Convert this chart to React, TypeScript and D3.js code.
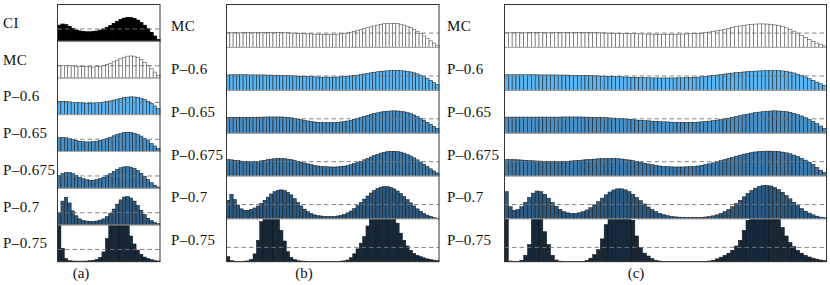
import React from 'react'
import { scaleLinear } from 'd3'

// row labels and captions
const labelsA = ['CI', 'MC', 'P–0.6', 'P–0.65', 'P–0.675', 'P–0.7', 'P–0.75']
const labelsBC = ['MC', 'P–0.6', 'P–0.65', 'P–0.675', 'P–0.7', 'P–0.75']
const captions = ['(a)', '(b)', '(c)']

// histogram heights, 1 = uniform level (dashed line)
const aCI = [1.3, 1.4, 1.35, 1.2, 1.05, 0.92, 0.84, 0.79, 0.77, 0.77, 0.79, 0.83, 0.9, 1.0, 1.12, 1.27, 1.45, 1.62, 1.77, 1.88, 1.93, 1.92, 1.85, 1.72, 1.52, 1.3, 1.02, 0.72, 0.42, 0.15]
const aMC = [1.0, 1.0, 1.0, 1.0, 0.98, 0.97, 0.95, 0.93, 0.92, 0.9, 0.9, 0.92, 0.96, 1.02, 1.1, 1.2, 1.32, 1.45, 1.58, 1.7, 1.78, 1.8, 1.78, 1.68, 1.5, 1.28, 1.02, 0.75, 0.48, 0.22]
const aP600 = [1.1, 1.1, 1.08, 1.05, 1.02, 1.0, 0.98, 0.96, 0.95, 0.95, 0.96, 0.98, 1.0, 1.04, 1.08, 1.13, 1.2, 1.27, 1.34, 1.4, 1.44, 1.46, 1.45, 1.42, 1.35, 1.25, 1.1, 0.92, 0.72, 0.5]
const aP650 = [1.12, 1.15, 1.12, 1.05, 0.97, 0.9, 0.84, 0.8, 0.78, 0.78, 0.8, 0.84, 0.9, 0.98, 1.07, 1.17, 1.28, 1.38, 1.47, 1.54, 1.57, 1.56, 1.5, 1.4, 1.26, 1.08, 0.88, 0.66, 0.45, 0.25]
const aP675 = [1.05, 1.2, 1.27, 1.28, 1.2, 1.05, 0.9, 0.78, 0.7, 0.66, 0.66, 0.7, 0.78, 0.9, 1.04, 1.2, 1.38, 1.54, 1.67, 1.74, 1.76, 1.72, 1.62, 1.45, 1.22, 0.96, 0.7, 0.45, 0.25, 0.1]
const aP700 = [1.0, 1.95, 2.25, 1.8, 1.15, 0.75, 0.5, 0.38, 0.32, 0.3, 0.3, 0.33, 0.4, 0.5, 0.68, 0.95, 1.3, 1.7, 2.05, 2.28, 2.32, 2.2, 1.95, 1.6, 1.2, 0.85, 0.55, 0.35, 0.2, 0.1]
const aP750 = [3.5, 1.1, 0.25, 0.1, 0.06, 0.05, 0.05, 0.05, 0.06, 0.08, 0.12, 0.2, 0.35, 0.8, 1.9, 3.2, 3.6, 3.8, 3.8, 3.6, 3.2, 2.1, 1.45, 0.95, 0.6, 0.38, 0.25, 0.16, 0.1, 0.06]

const bMC = [
  1.02, 1.02, 1.03, 1.02, 1.02, 1.03, 1.03, 1.02, 1.03, 1.04, 1.04, 1.04, 1.05, 1.05, 1.05, 1.04, 1.04, 1.03, 1.02, 1.01, 1.0, 0.99, 0.98,
  0.96, 0.95, 0.94, 0.93, 0.92, 0.92, 0.91, 0.91, 0.92, 0.92, 0.93, 0.95, 0.98,
  1.02, 1.06, 1.11, 1.17, 1.23, 1.3, 1.37, 1.44, 1.5, 1.56, 1.61, 1.65, 1.67, 1.68,
  1.68, 1.66, 1.62, 1.56, 1.48, 1.38, 1.26, 1.12, 0.96, 0.8, 0.63, 0.46, 0.3, 0.15,
]
const bP600 = [
  1.07, 1.08, 1.08, 1.08, 1.08, 1.08, 1.08, 1.07, 1.07, 1.07, 1.07, 1.07, 1.06, 1.06, 1.05, 1.05, 1.04, 1.03, 1.02, 1.01, 1.0, 0.99, 0.98,
  0.97, 0.96, 0.95, 0.94, 0.93, 0.92, 0.92, 0.92, 0.92, 0.92, 0.93, 0.94, 0.96, 0.98, 1.0, 1.03,
  1.06, 1.1, 1.14, 1.18, 1.22, 1.26, 1.29, 1.32, 1.34, 1.36, 1.37, 1.38, 1.38, 1.37,
  1.35, 1.32, 1.28, 1.22, 1.15, 1.06, 0.95, 0.82, 0.68, 0.54, 0.4,
]
const bP650 = [
  1.1, 1.1, 1.1, 1.1, 1.1, 1.1, 1.1, 1.1, 1.11, 1.11, 1.12, 1.12, 1.13, 1.13, 1.13, 1.13,
  1.13, 1.12, 1.1, 1.07, 1.03, 0.99, 0.94, 0.9, 0.85, 0.81, 0.78, 0.76, 0.74, 0.73,
  0.73, 0.73, 0.74, 0.76, 0.78, 0.81, 0.85, 0.9, 0.96, 1.03, 1.1, 1.17, 1.24, 1.31, 1.37, 1.42, 1.47, 1.5, 1.53, 1.55, 1.56,
  1.55, 1.53, 1.49, 1.43, 1.36, 1.27, 1.16, 1.04, 0.9, 0.76, 0.62, 0.47, 0.33,
]
const bP675 = [
  1.15, 1.13, 1.1, 1.07, 1.04, 1.02, 1.01, 1.0, 1.01, 1.03, 1.06, 1.1, 1.14, 1.18, 1.21, 1.22,
  1.22, 1.21, 1.18, 1.14, 1.09, 1.03, 0.97, 0.91, 0.85, 0.79, 0.74, 0.7, 0.67, 0.65, 0.64, 0.63,
  0.63, 0.64, 0.66, 0.69, 0.73, 0.79, 0.86, 0.94, 1.03, 1.13, 1.23, 1.33, 1.43, 1.52, 1.6, 1.66, 1.71, 1.73,
  1.73, 1.71, 1.67, 1.6, 1.51, 1.4, 1.27, 1.13, 0.98, 0.82, 0.66, 0.5, 0.35, 0.21,
]
const bP700 = [
  1.3, 1.72, 1.35, 0.95, 0.7, 0.6, 0.6, 0.66, 0.76, 0.9, 1.08, 1.3, 1.52, 1.74, 1.9, 2.0,
  2.03, 1.98, 1.86, 1.68, 1.42, 1.15, 0.9, 0.68, 0.5, 0.37, 0.28, 0.22, 0.2, 0.17, 0.16, 0.16,
  0.17, 0.2, 0.25, 0.32, 0.42, 0.55, 0.72, 0.92, 1.14, 1.38, 1.6, 1.81, 1.99, 2.13, 2.22, 2.26,
  2.26, 2.2, 2.1, 1.95, 1.77, 1.56, 1.34, 1.12, 0.9, 0.7, 0.53, 0.38, 0.26, 0.17, 0.1, 0.05,
]
const bP750 = [
  0.35, 0.08, 0.04, 0.03, 0.03, 0.04, 0.06, 0.15, 0.55, 1.5, 2.8, 3.4, 3.8, 3.9, 3.6, 3.1,
  2.2, 1.45, 0.7, 0.3, 0.15, 0.08, 0.05, 0.04, 0.03, 0.03, 0.03, 0.03, 0.03, 0.03, 0.03, 0.03,
  0.03, 0.03, 0.04, 0.06, 0.12, 0.28, 0.55, 0.9, 1.3, 1.75, 2.5, 3.1, 3.5, 3.8, 3.9, 3.9,
  3.7, 3.4, 3.1, 2.7, 2.0, 1.5, 1.1, 0.8, 0.58, 0.45, 0.35, 0.27, 0.2, 0.15, 0.11, 0.08,
]

const cMC = [
  1.02, 1.02, 1.03, 1.03, 1.02, 1.02, 1.03, 1.03, 1.03, 1.03, 1.02, 1.02, 1.02, 1.03, 1.03, 1.03, 1.04, 1.04, 1.04, 1.04, 1.04,
  1.03, 1.03, 1.03, 1.02, 1.02, 1.01, 1.0, 0.99, 0.99, 0.98, 0.97, 0.96, 0.96, 0.95, 0.94, 0.94,
  0.93, 0.93, 0.92, 0.92, 0.92, 0.92, 0.92, 0.92, 0.93, 0.93, 0.94, 0.95, 0.96, 0.98, 1.0, 1.03,
  1.07, 1.11, 1.16, 1.21, 1.27, 1.33, 1.39, 1.45, 1.5, 1.54, 1.58, 1.61, 1.63, 1.64, 1.64,
  1.63, 1.61, 1.57, 1.52, 1.45, 1.36, 1.25, 1.13, 0.99, 0.85, 0.7, 0.56, 0.42, 0.3, 0.19, 0.1,
]
const cP600 = [
  1.08, 1.08, 1.08, 1.08, 1.08, 1.08, 1.08, 1.08, 1.08, 1.07, 1.07, 1.07, 1.07, 1.07, 1.06, 1.06, 1.06, 1.05, 1.05, 1.04,
  1.04, 1.03, 1.02, 1.01, 1.0, 0.99, 0.98, 0.97, 0.96, 0.95, 0.94,
  0.93, 0.92, 0.91, 0.9, 0.89, 0.88, 0.87, 0.87, 0.86, 0.86, 0.86, 0.86, 0.86, 0.86, 0.87, 0.87, 0.88, 0.89, 0.9, 0.92, 0.94, 0.97,
  1.0, 1.03, 1.06, 1.1, 1.13, 1.17, 1.2, 1.23, 1.26, 1.28, 1.3, 1.32, 1.34, 1.35, 1.36, 1.37, 1.37, 1.37, 1.37,
  1.35, 1.32, 1.27, 1.21, 1.13, 1.04, 0.93, 0.81, 0.69, 0.57, 0.45, 0.33,
]
const cP650 = [
  1.12, 1.12, 1.12, 1.12, 1.12, 1.12, 1.12, 1.12, 1.12, 1.12, 1.12, 1.12, 1.12, 1.12, 1.12, 1.13, 1.13, 1.13, 1.13, 1.13,
  1.12, 1.12, 1.11, 1.11, 1.1, 1.09, 1.08, 1.06, 1.05, 1.03, 1.01,
  0.99, 0.97, 0.95, 0.92, 0.9, 0.88, 0.86, 0.84, 0.82, 0.8, 0.79, 0.78, 0.77, 0.76, 0.75, 0.75, 0.75, 0.75,
  0.76, 0.77, 0.79, 0.81, 0.84, 0.87, 0.91, 0.95, 1.0, 1.05, 1.1, 1.16, 1.22, 1.28, 1.33, 1.38, 1.43, 1.47, 1.5, 1.53, 1.55, 1.56,
  1.55, 1.53, 1.5, 1.45, 1.38, 1.3, 1.2, 1.08, 0.95, 0.81, 0.66, 0.5, 0.34,
]
const cP675 = [
  1.15, 1.15, 1.14, 1.13, 1.12, 1.1, 1.08, 1.06, 1.05, 1.04, 1.03, 1.02, 1.01, 1.01, 1.01, 1.02, 1.03, 1.05, 1.07, 1.09,
  1.12, 1.14, 1.16, 1.18, 1.2, 1.21, 1.22, 1.22,
  1.22, 1.21, 1.19, 1.16, 1.12, 1.07, 1.02, 0.96, 0.9, 0.84, 0.79, 0.74, 0.7, 0.67, 0.65, 0.64, 0.63, 0.63, 0.63, 0.64,
  0.65, 0.67, 0.7, 0.74, 0.79, 0.85, 0.92, 0.99, 1.07, 1.15, 1.23, 1.31, 1.39, 1.46, 1.53, 1.59, 1.64, 1.68, 1.71, 1.73, 1.74, 1.74, 1.73,
  1.71, 1.67, 1.62, 1.55, 1.46, 1.36, 1.24, 1.11, 0.96, 0.81, 0.6, 0.41, 0.24,
]
const cP700 = [
  1.9, 0.85, 0.6, 0.65, 0.85, 1.15, 1.5, 1.8, 1.95, 1.9, 1.72, 1.45, 1.15, 0.88, 0.66, 0.5, 0.42, 0.38, 0.38, 0.42,
  0.5, 0.62, 0.78, 0.98, 1.2, 1.45, 1.68, 1.88, 2.02, 2.1, 2.1, 2.03, 1.9, 1.72, 1.5, 1.27, 1.04, 0.83, 0.65, 0.5,
  0.38, 0.29, 0.22, 0.17, 0.14, 0.12, 0.11, 0.1, 0.1, 0.1, 0.1, 0.11, 0.13, 0.16, 0.21, 0.28, 0.38, 0.5, 0.66, 0.85,
  1.07, 1.3, 1.54, 1.77, 1.98, 2.15, 2.27, 2.33, 2.34, 2.3, 2.2, 2.05, 1.86, 1.64, 1.4, 1.16, 0.93, 0.72, 0.54, 0.4,
  0.28, 0.19, 0.12, 0.08,
]
const cP750 = [
  3.5, 0.05, 0.02, 0.03, 0.1, 0.45, 1.2, 3.1, 3.6, 3.4, 2.1, 1.2, 0.45, 0.12, 0.04,
  0.02, 0.02, 0.02, 0.02, 0.02, 0.02,
  0.1, 0.25, 0.5, 0.85, 1.6, 2.6, 3.3, 3.7, 3.9, 3.9, 3.7, 3.4, 2.9, 1.8, 1.0, 0.6, 0.4, 0.22, 0.1, 0.05,
  0.02, 0.02, 0.02, 0.02, 0.02, 0.02, 0.02, 0.02, 0.02, 0.02, 0.02, 0.02,
  0.05, 0.1, 0.2, 0.32, 0.45, 0.6, 0.8, 1.1, 1.5, 2.2, 2.9, 3.3, 3.6, 3.8, 3.9, 3.9, 3.8, 3.5, 3.1, 2.4, 1.8, 1.35,
  1.05, 0.8, 0.6, 0.45, 0.33, 0.25, 0.18, 0.12, 0.08,
]

const FILLS: Record<string, string> = {
  CI: '#000000',
  MC: '#ffffff',
  'P–0.6': '#5ab6f2',
  'P–0.65': '#4791c8',
  'P–0.675': '#3b7aaa',
  'P–0.7': '#2c5a80',
  'P–0.75': '#16293b',
}

const FONT = '"Liberation Serif", "Times New Roman", "DejaVu Serif", serif'
const TOP = 4.5
const BOTTOM = 261.7

type Panel = { x0: number; x1: number; labelX: number; capX: number; labels: string[]; series: number[][] }

const panels: Panel[] = [
  { x0: 57.5, x1: 160, labelX: 3, capX: 81, labels: labelsA, series: [aCI, aMC, aP600, aP650, aP675, aP700, aP750] },
  { x0: 226.5, x1: 439, labelX: 171, capX: 304, labels: labelsBC, series: [bMC, bP600, bP650, bP675, bP700, bP750] },
  { x0: 504.5, x1: 826.5, labelX: 447, capX: 636, labels: labelsBC, series: [cMC, cP600, cP650, cP675, cP700, cP750] },
]

function Row({ vals, label, x0, x1, top, bottom }: { vals: number[]; label: string; x0: number; x1: number; top: number; bottom: number }) {
  const x = scaleLinear().domain([0, vals.length]).range([x0, x1])
  const y = scaleLinear().domain([0, 3]).range([bottom, top]).clamp(true)
  const fill = FILLS[label]
  const isMC = label === 'MC'
  const isCI = label === 'CI'
  return (
    <g>
      {vals.map((v, i) => (
        <rect
          key={i}
          x={x(i)}
          y={y(v)}
          width={x(i + 1) - x(i)}
          height={bottom - y(v)}
          fill={fill}
          stroke={isMC ? '#555' : isCI ? '#000' : '#111'}
          strokeWidth={isMC ? 0.6 : isCI ? 0.9 : 0.5}
        />
      ))}
      <line x1={x0} x2={x1} y1={y(1)} y2={y(1)} stroke="#777" strokeWidth={0.9} strokeDasharray="4.5,3" />
    </g>
  )
}

export default function App(): JSX.Element {
  return (
    <svg width={830} height={285} style={{ position: 'absolute', left: 0, top: 0, background: '#fff' }}>
      {panels.map((p, pi) => {
        const n = p.series.length
        const rowY = scaleLinear().domain([0, n]).range([TOP, BOTTOM])
        return (
          <g key={pi}>
            {p.series.map((vals, ri) => {
              const top = rowY(ri)
              const bottom = rowY(ri + 1)
              return (
                <g key={ri}>
                  <Row vals={vals} label={p.labels[ri]} x0={p.x0} x1={p.x1} top={top} bottom={bottom} />
                  {ri > 0 && <line x1={p.x0} x2={p.x1} y1={top} y2={top} stroke="#aaa" strokeWidth={1} />}
                  <text x={p.labelX} y={(top + bottom) / 2 + 5} style={{ fontFamily: FONT, fontSize: 15, letterSpacing: 0.4 }} fill="#111">
                    {p.labels[ri]}
                  </text>
                </g>
              )
            })}
            <rect x={p.x0} y={TOP} width={p.x1 - p.x0} height={BOTTOM - TOP} fill="none" stroke="#333" strokeWidth={1} />
            <text x={p.capX} y={278} style={{ fontFamily: FONT, fontSize: 15 }} textAnchor="middle" fill="#111">
              {captions[pi]}
            </text>
          </g>
        )
      })}
    </svg>
  )
}
